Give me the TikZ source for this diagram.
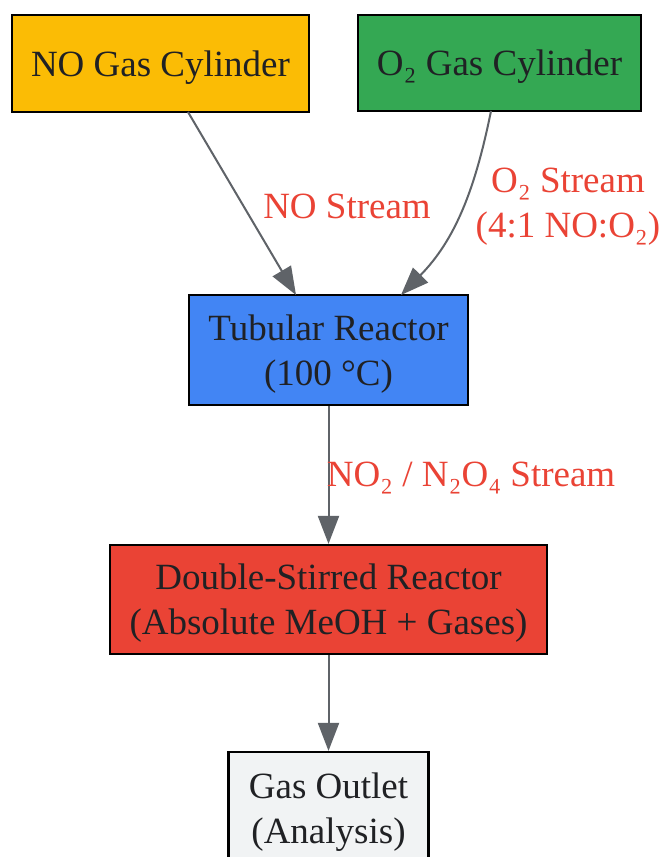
\documentclass[tikz,border=0pt]{standalone}
\usepackage{fontspec}
\setmainfont{Liberation Serif}
\usetikzlibrary{arrows.meta}
\definecolor{cyellow}{HTML}{FBBC05}
\definecolor{cgreen}{HTML}{34A853}
\definecolor{cblue}{HTML}{4285F4}
\definecolor{cred}{HTML}{EA4335}
\definecolor{cgrey}{HTML}{F1F3F4}
\definecolor{cedge}{HTML}{5F6368}
\definecolor{ctext}{HTML}{202124}
\definecolor{clabel}{HTML}{EA4335}
\tikzset{
  box/.style={draw=black, line width=2.2pt, align=center, inner sep=0pt,
    text depth=-2pt, text=ctext, font=\fontsize{37}{45}\selectfont},
  flow/.style={draw=cedge, line width=2pt, -{Triangle[length=28pt,width=21pt]}},
  lbl/.style={text=clabel, align=center, font=\fontsize{37}{45}\selectfont, inner sep=0pt}
}
\begin{document}
\begin{tikzpicture}[x=1pt,y=-1pt]
\useasboundingbox (0,0) rectangle (665,857);
\clip (0,0) rectangle (665,857);
\fill[white] (0,0) rectangle (665,857);
\node[box, fill=cyellow, minimum width=297pt, minimum height=97pt] (no) at (160.5,63.5) {NO Gas Cylinder};
\node[box, fill=cgreen, minimum width=283pt, minimum height=96pt] (o2) at (499.5,63) {O₂ Gas Cylinder};
\node[box, fill=cblue, minimum width=279pt, minimum height=110pt] (tr) at (328.5,350) {Tubular Reactor\\(100 °C)};
\node[box, fill=cred, minimum width=437pt, minimum height=109pt] (dr) at (328.5,599.5) {Double-Stirred Reactor\\(Absolute MeOH + Gases)};
\node[box, fill=cgrey, minimum width=200pt, minimum height=112pt] (go) at (328.5,808) {Gas Outlet\\(Analysis)};
\coordinate (a1) at (188,112);
\coordinate (b1) at (296,295);
\coordinate (a2) at (491,111);
\coordinate (b2) at (401,295);
\draw[flow] (a1) -- (b1);
\draw[flow] (a2) .. controls (475,190) and (455,240) .. (b2);
\draw[flow] (tr.south) -- (dr.north);
\draw[flow] (dr.south) -- (go.north);
\node[lbl] (l1) at (347,206) {NO Stream};
\node[lbl] (l2) at (568,207) {O₂ Stream\\(4:1 NO:O₂)};
\node[lbl] (l3) at (471,478) {NO₂ / N₂O₄ Stream};
\end{tikzpicture}
\end{document}
